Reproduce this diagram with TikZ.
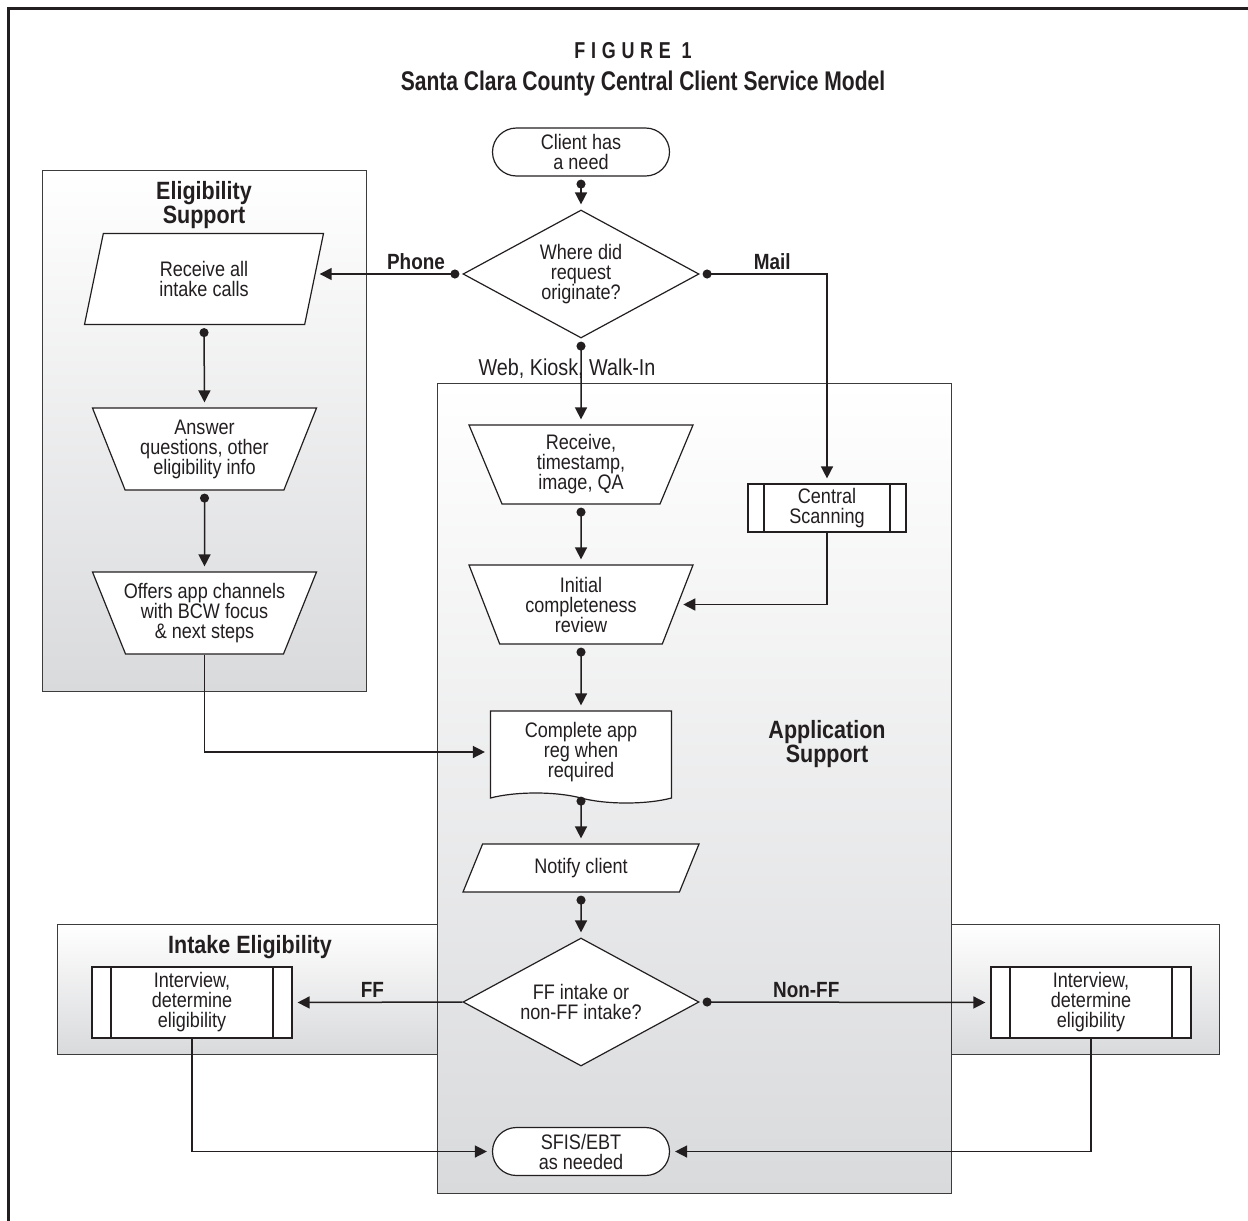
\documentclass[tikz,border=0pt]{standalone}
\usepackage{fontspec}
\setmainfont{Liberation Sans}[FakeStretch=0.86]
\newfontfamily\titlefont{Liberation Sans}[FakeStretch=0.78]
\usepackage{tikz}
\usetikzlibrary{arrows.meta,shapes.geometric,shapes.symbols}

\definecolor{inkline}{HTML}{231F20}
\definecolor{laneline}{HTML}{3C3C3C}
\definecolor{lanebot}{HTML}{D9DADC}

\tikzstyle{lane} = [draw=laneline, line width=0.5pt, top color=white, bottom color=lanebot]
\tikzstyle{lane_lbl} = [align=center, text=inkline, font=\fontsize{12.5}{12}\selectfont\bfseries]
\tikzstyle{flow_base} = [draw=inkline, fill=white, line width=0.6pt, text=inkline, align=center, inner sep=0pt, font=\fontsize{10.5}{10}\selectfont]
\tikzstyle{flow_term} = [flow_base, rectangle, rounded corners=12pt, minimum width=88.5pt, minimum height=24pt]
\tikzstyle{flow_dec} = [flow_base, diamond, aspect=1.84, minimum width=118pt, minimum height=64pt]
\tikzstyle{flow_in} = [flow_base, trapezium, trapezium stretches body=true, inner xsep=-4pt]
\tikzstyle{flow_man} = [flow_base, trapezium, trapezium angle=119, trapezium stretches body=true, inner xsep=-4pt, minimum width=112pt, minimum height=39.5pt]
\tikzstyle{flow_doc} = [flow_base, tape, tape bend top=none, tape bend bottom=out and in, tape bend height=5pt, minimum width=90.5pt, minimum height=46pt]
\tikzstyle{flow_lbl} = [inner sep=2pt, text=inkline, font=\fontsize{11}{11}\selectfont\bfseries]
\tikzstyle{flow_arr} = [draw=inkline, line width=0.75pt, -{Triangle[length=6pt,width=6pt]}, shorten >=2.5pt]
\tikzstyle{flow_dot} = [draw=inkline, line width=0.75pt, {Circle[length=4.5pt]}-{Triangle[length=6pt,width=6pt]}, shorten >=2.5pt]
\tikzset{flow_sub/.style={flow_base, rectangle,
    path picture={\draw[inkline, line width=0.6pt]
      ([xshift=#1]path picture bounding box.north west) -- ([xshift=#1]path picture bounding box.south west)
      ([xshift=-#1]path picture bounding box.north east) -- ([xshift=-#1]path picture bounding box.south east);}},
  flow_sub/.default=8pt}

\begin{document}
\begin{tikzpicture}[x=0.5pt, y=-0.5pt]
\useasboundingbox (0,0) rectangle (1248,1221);
\draw[draw=inkline, line width=1.5pt] (1260,8) -- (8,8) -- (8,1230);

\node[text=inkline, font={\titlefont\bfseries\fontsize{11.5}{11}\selectfont\addfontfeatures{LetterSpace=25}}] (fig) at (633,51) {FIGURE 1};
\node[text=inkline, font={\titlefont\bfseries\fontsize{13.5}{13}\selectfont}] (title) at (643,84) {Santa Clara County Central Client Service Model};

\draw[lane] (57,924) rectangle (1219,1054);
\draw[lane] (42,170) rectangle (366,691);
\draw[lane] (437,383) rectangle (951,1193);
\node[lane_lbl] (lbl_elig) at (204,205) {Eligibility\\Support};
\node[lane_lbl] (lbl_app) at (827,744) {Application\\Support};
\node[lane_lbl] (lbl_intake) at (250,947) {Intake Eligibility};

\node[flow_term] (need) at (581,152) {Client has\\a need};
\node[flow_dec] (orig) at (581,274) {Where did\\request\\originate?};
\node[flow_in, trapezium left angle=62, trapezium right angle=118, minimum width=119.5pt, minimum height=45.5pt] (calls) at (204,279) {Receive all\\intake calls};
\node[flow_man, minimum height=41pt] (answer) at (204.5,449) {Answer\\questions, other\\eligibility info};
\node[flow_man, minimum height=41pt] (offers) at (204.5,613) {Offers app channels\\with BCW focus\\\& next steps};
\node[flow_man] (rcv) at (581,464.5) {Receive,\\timestamp,\\image, QA};
\node[flow_man] (init) at (581,604.5) {Initial\\completeness\\review};
\node[flow_sub, minimum width=79pt, minimum height=24pt] (scan) at (827,508) {Central\\Scanning};
\node[flow_doc] (reg) at (581,752) {Complete app\\reg when\\required};
\node[flow_in, trapezium left angle=45, trapezium right angle=135, minimum width=118pt, minimum height=24pt] (notify) at (581,868) {Notify client};
\node[flow_dec] (ffq) at (581,1002) {FF intake or\\non-FF intake?};
\node[flow_sub=9.5pt, minimum width=100pt, minimum height=35.5pt] (ivl) at (192,1002.5) {Interview,\\determine\\eligibility};
\node[flow_sub=9.5pt, minimum width=100pt, minimum height=35.5pt] (ivr) at (1091,1002.5) {Interview,\\determine\\eligibility};
\node[flow_term] (sfis) at (581,1151.5) {SFIS/EBT\\as needed};

\draw[flow_dot] ([yshift=-1.5pt]need.south) -- (orig.north);
\draw[flow_dot] ([xshift=-1.5pt]orig.west) -- node[flow_lbl, above, pos=0.3] {Phone} (orig.west -| calls.east);
\draw[flow_dot] ([xshift=1.5pt]orig.east) -- node[flow_lbl, above, pos=0.56] {Mail} (orig.east -| scan.north) -- (scan.north);
\draw[flow_dot] ([yshift=-1.5pt]orig.south) -- (rcv.north);
\node[text=inkline, font=\fontsize{11.5}{11}\selectfont] (lbl_web) at (567,369) {Web, Kiosk, Walk-In};
\draw[flow_dot] ([yshift=-1.5pt]calls.south) -- (answer.north);
\draw[flow_dot] ([yshift=-1.5pt]answer.south) -- (offers.north);
\draw[flow_dot] ([yshift=-1.5pt]rcv.south) -- (init.north);
\draw[flow_arr] (scan.south) |- (init.east);
\draw[flow_dot] ([yshift=-1.5pt]init.south) -- (reg.north);
\draw[flow_arr] (offers.south) |- (reg.west);
\draw[flow_dot] ([yshift=-1.5pt]reg.south) -- (notify.north);
\draw[flow_dot] ([yshift=-1.5pt]notify.south) -- (ffq.north);
\draw[flow_arr] (ffq.west) -- node[flow_lbl, above, pos=0.53] {FF} (ivl.east);
\draw[flow_dot] ([xshift=1.5pt]ffq.east) -- node[flow_lbl, above, pos=0.36] {Non-FF} (ivr.west);
\draw[flow_arr] (ivl.south) |- (sfis.west);
\draw[flow_arr] (ivr.south) |- (sfis.east);
\end{tikzpicture}
\end{document}
